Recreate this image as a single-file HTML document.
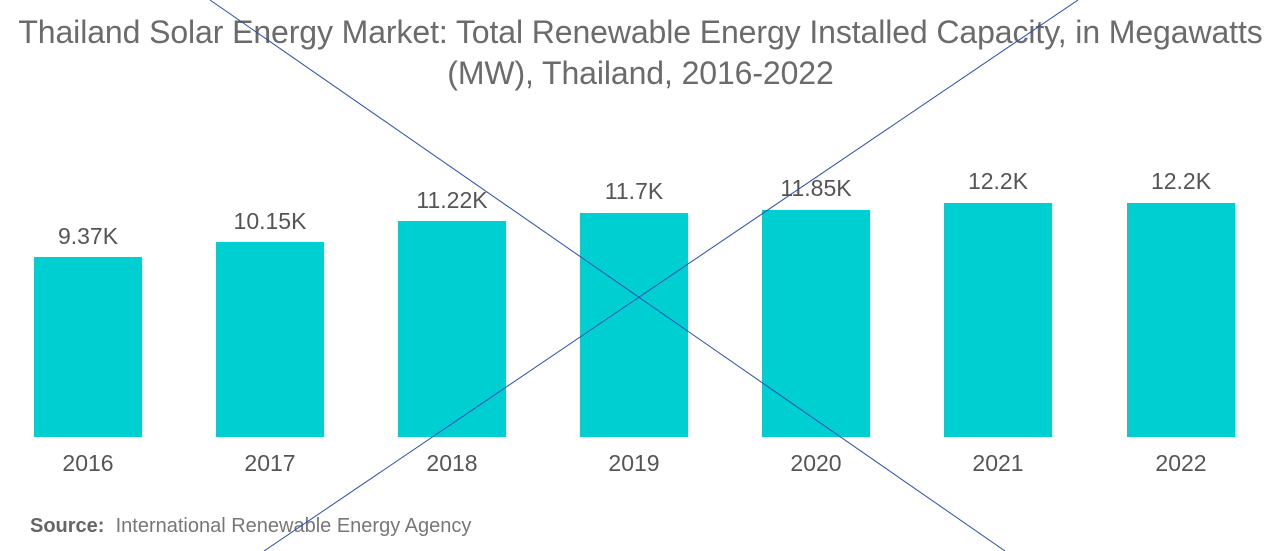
<!DOCTYPE html>
<html><head><style>
body{margin:0;width:1281px;height:551px;background:#fff;position:relative;overflow:hidden;font-family:"Liberation Sans",sans-serif;}
.t{position:absolute;left:0;width:1281px;text-align:center;color:#6b6b6b;font-size:32px;letter-spacing:-0.1px;}
.bar{position:absolute;background:#00cfd1;width:108px;}
.v{position:absolute;width:108px;text-align:center;color:#555;font-size:23px;}
.x{position:absolute;width:108px;text-align:center;color:#555;font-size:23px;top:450px;}
.s{position:absolute;left:30px;top:515px;font-size:20px;color:#777;}
</style></head><body>
<div class="t" style="top:14px">Thailand Solar Energy Market: Total Renewable Energy Installed Capacity, in Megawatts</div>
<div class="t" style="top:55px">(MW), Thailand, 2016-2022</div>

<div class="bar" style="left:34px;top:257px;height:180px"></div><div class="v" style="left:34px;top:223px">9.37K</div><div class="x" style="left:34px">2016</div>
<div class="bar" style="left:216px;top:242px;height:195px"></div><div class="v" style="left:216px;top:208px">10.15K</div><div class="x" style="left:216px">2017</div>
<div class="bar" style="left:398px;top:221px;height:216px"></div><div class="v" style="left:398px;top:187px">11.22K</div><div class="x" style="left:398px">2018</div>
<div class="bar" style="left:580px;top:213px;height:224px"></div><div class="v" style="left:580px;top:178px">11.7K</div><div class="x" style="left:580px">2019</div>
<div class="bar" style="left:762px;top:210px;height:227px"></div><div class="v" style="left:762px;top:175px">11.85K</div><div class="x" style="left:762px">2020</div>
<div class="bar" style="left:944px;top:203px;height:234px"></div><div class="v" style="left:944px;top:168px">12.2K</div><div class="x" style="left:944px">2021</div>
<div class="bar" style="left:1127px;top:203px;height:234px"></div><div class="v" style="left:1127px;top:168px">12.2K</div><div class="x" style="left:1127px">2022</div>

<div class="s"><b style="color:#666">Source:</b>&nbsp; International Renewable Energy Agency</div>
<svg style="position:absolute;left:0;top:0" width="1281" height="551">
<line x1="210" y1="0" x2="1005" y2="551" stroke="#2a4fb0" stroke-width="1"/>
<line x1="1078" y1="0" x2="264" y2="551" stroke="#2a4fb0" stroke-width="1"/>
</svg>
</body></html>
